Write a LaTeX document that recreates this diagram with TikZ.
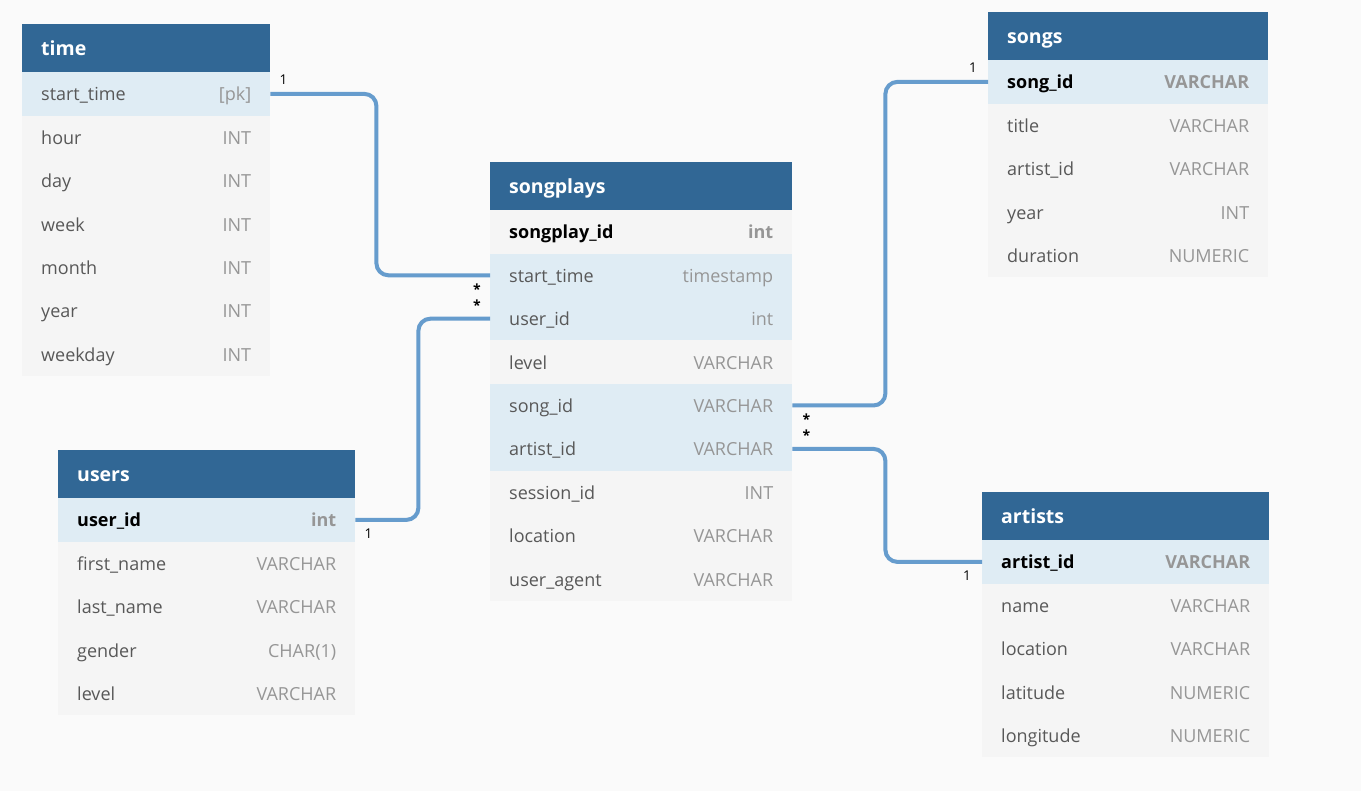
\documentclass[tikz,border=0pt]{standalone}
\usepackage{fontspec}
\setmainfont{Open Sans}
\usetikzlibrary{calc}
\definecolor{bg}{RGB}{250,250,250}
\definecolor{hdr}{RGB}{49,103,149}
\definecolor{hlrow}{RGB}{223,236,244}
\definecolor{plrow}{RGB}{245,245,245}
\definecolor{fieldc}{RGB}{88,88,88}
\definecolor{typec}{RGB}{150,150,150}
\definecolor{connc}{RGB}{102,156,205}
\tikzset{
  hdrbox/.style={fill=hdr,draw=none,inner sep=0pt,minimum height=48pt,anchor=north west},
  hdrtxt/.style={text=white,font=\fontsize{19.5}{22}\selectfont\bfseries,inner sep=0pt,anchor=west,text height=14pt,text depth=4pt,yshift=-2pt},
  rowbox/.style={draw=none,inner sep=0pt,minimum height=43.4pt,anchor=north west},
  hl/.style={fill=hlrow},
  pl/.style={fill=plrow},
  fieldtxt/.style={text=fieldc,font=\fontsize{18}{21}\selectfont,inner sep=0pt,anchor=west,text height=13pt,text depth=4pt,yshift=-2.5pt},
  typetxt/.style={text=typec,font=\fontsize{18}{21}\selectfont,inner sep=0pt,anchor=east,text height=13pt,text depth=4pt,yshift=-2.5pt},
  pkf/.style={text=black,font=\fontsize{18}{21}\selectfont\bfseries},
  pkt/.style={font=\fontsize{18}{21}\selectfont\bfseries},
  nf/.style={},
  conn/.style={draw=connc,line width=4pt,rounded corners=12pt},
  card/.style={text=black,font=\fontsize{13.5}{15}\selectfont,inner sep=0pt},
  star/.style={text=black,font=\fontsize{14}{15}\selectfont\bfseries,inner sep=0pt}
}
% #1 name, #2 x, #3 y, #4 width, #5 field, #6 type, #7 box style, #8 field style, #9 type style
\newcommand{\erow}[9]{%
  \node[rowbox,#7,minimum width=#4pt] (#1) at (#2,#3) {};
  \node[fieldtxt,#8] (#1-f) at ([xshift=19pt]#1.west) {#5};
  \node[typetxt,#9] (#1-t) at ([xshift=-19pt]#1.east) {#6};
}
\newcommand{\ehdr}[5]{%
  \node[hdrbox,minimum width=#4pt] (#1) at (#2,#3) {};
  \node[hdrtxt] (#1-txt) at ([xshift=19pt]#1.west) {#5};
}
\begin{document}
\begin{tikzpicture}[x=1pt,y=-1pt]
\fill[bg] (0,0) rectangle (1361,791);
\useasboundingbox (0,0) rectangle (1361,791);

% time
\ehdr{th}{22}{24}{248}{time}
\erow{t1}{22}{72}{248}{start\_time}{[pk]}{hl}{nf}{nf}
\erow{t2}{22}{115.4}{248}{hour}{INT}{pl}{nf}{nf}
\erow{t3}{22}{158.8}{248}{day}{INT}{pl}{nf}{nf}
\erow{t4}{22}{202.2}{248}{week}{INT}{pl}{nf}{nf}
\erow{t5}{22}{245.6}{248}{month}{INT}{pl}{nf}{nf}
\erow{t6}{22}{289}{248}{year}{INT}{pl}{nf}{nf}
\erow{t7}{22}{332.4}{248}{weekday}{INT}{pl}{nf}{nf}

% songplays
\ehdr{sph}{490}{162}{302}{songplays}
\erow{sp1}{490}{210}{302}{songplay\_id}{int}{pl}{pkf}{pkt}
\erow{sp2}{490}{253.4}{302}{start\_time}{timestamp}{hl}{nf}{nf}
\erow{sp3}{490}{296.8}{302}{user\_id}{int}{hl}{nf}{nf}
\erow{sp4}{490}{340.2}{302}{level}{VARCHAR}{pl}{nf}{nf}
\erow{sp5}{490}{383.6}{302}{song\_id}{VARCHAR}{hl}{nf}{nf}
\erow{sp6}{490}{427}{302}{artist\_id}{VARCHAR}{hl}{nf}{nf}
\erow{sp7}{490}{470.4}{302}{session\_id}{INT}{pl}{nf}{nf}
\erow{sp8}{490}{513.8}{302}{location}{VARCHAR}{pl}{nf}{nf}
\erow{sp9}{490}{557.2}{302}{user\_agent}{VARCHAR}{pl}{nf}{nf}

% songs
\ehdr{sh}{988}{12}{280}{songs}
\erow{s1}{988}{60}{280}{song\_id}{VARCHAR}{hl}{pkf}{pkt}
\erow{s2}{988}{103.4}{280}{title}{VARCHAR}{pl}{nf}{nf}
\erow{s3}{988}{146.8}{280}{artist\_id}{VARCHAR}{pl}{nf}{nf}
\erow{s4}{988}{190.2}{280}{year}{INT}{pl}{nf}{nf}
\erow{s5}{988}{233.6}{280}{duration}{NUMERIC}{pl}{nf}{nf}

% users
\ehdr{uh}{58}{450}{297}{users}
\erow{u1}{58}{498}{297}{user\_id}{int}{hl}{pkf}{pkt}
\erow{u2}{58}{541.4}{297}{first\_name}{VARCHAR}{pl}{nf}{nf}
\erow{u3}{58}{584.8}{297}{last\_name}{VARCHAR}{pl}{nf}{nf}
\erow{u4}{58}{628.2}{297}{gender}{CHAR(1)}{pl}{nf}{nf}
\erow{u5}{58}{671.6}{297}{level}{VARCHAR}{pl}{nf}{nf}

% artists
\ehdr{ah}{982}{492}{287}{artists}
\erow{a1}{982}{540}{287}{artist\_id}{VARCHAR}{hl}{pkf}{pkt}
\erow{a2}{982}{583.4}{287}{name}{VARCHAR}{pl}{nf}{nf}
\erow{a3}{982}{626.8}{287}{location}{VARCHAR}{pl}{nf}{nf}
\erow{a4}{982}{670.2}{287}{latitude}{NUMERIC}{pl}{nf}{nf}
\erow{a5}{982}{713.6}{287}{longitude}{NUMERIC}{pl}{nf}{nf}

% connectors
\draw[conn] (t1.east) -- ++(106,0) |- (sp2.west);
\draw[conn] (u1.east) -- ++(63,0) |- (sp3.west);
\draw[conn] (sp5.east) -- ++(93,0) |- (s1.west);
\draw[conn] (sp6.east) -- ++(93,0) |- (a1.west);

% cardinality labels
\node[card] (c1) at ([xshift=13pt,yshift=14pt]t1.east) {1};
\node[star] (c2) at ([xshift=-13pt,yshift=-14pt]sp2.west) {*};
\node[star] (c3) at ([xshift=-13pt,yshift=14pt]sp3.west) {*};
\node[card] (c4) at ([xshift=13pt,yshift=-14pt]u1.east) {1};
\node[card] (c5) at ([xshift=-15pt,yshift=14pt]s1.west) {1};
\node[star] (c6) at ([xshift=14pt,yshift=-14pt]sp5.east) {*};
\node[star] (c7) at ([xshift=14pt,yshift=14pt]sp6.east) {*};
\node[card] (c8) at ([xshift=-15pt,yshift=-14pt]a1.west) {1};
\end{tikzpicture}
\end{document}
